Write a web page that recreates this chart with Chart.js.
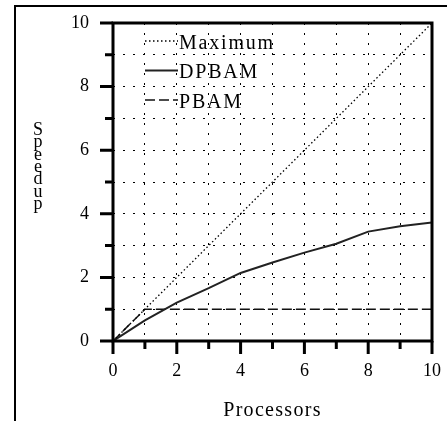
<!DOCTYPE html>
<html><head><meta charset="utf-8">
<script src="https://cdn.jsdelivr.net/npm/chart.js@4/dist/chart.umd.min.js"></script>
<style>html,body{margin:0;padding:0;background:#fff}#wrap{width:447px;height:421px}</style>
</head><body><div id="wrap"><canvas id="c" width="447" height="421"></canvas></div>
<script>
const processors = [0, 1, 2, 3, 4, 5, 6, 7, 8, 9, 10];
const maximum = [0, 1, 2, 3, 4, 5, 6, 7, 8, 9, 10];
const dpbam = [0, 0.65, 1.21, 1.66, 2.14, 2.47, 2.78, 3.06, 3.44, 3.61, 3.73];
const pbam = [0, 1, 1, 1, 1, 1, 1, 1, 1, 1, 1];
const seriesLabels = ['Maximum', 'DPBAM', 'PBAM'];
const xTickLabels = [0, 2, 4, 6, 8, 10];
const yTickLabels = [0, 2, 4, 6, 8, 10];
const xTitle = 'Processors';
const yTitle = 'Speedup';

const FONT = '"Liberation Serif", "Times New Roman", serif';
const toPts = (vals) => processors.map((p, i) => ({x: p, y: vals[i]}));

const decor = {
  id: 'decor',
  afterDraw(chart) {
    const {ctx, chartArea: a, scales: {x, y}} = chart;
    ctx.save();
    ctx.strokeStyle = '#000';
    ctx.fillStyle = '#000';
    // outer frame
    ctx.lineWidth = 2;
    ctx.beginPath(); ctx.moveTo(15, 421); ctx.lineTo(15, 6); ctx.lineTo(447, 6); ctx.stroke();
    // plot box
    ctx.lineWidth = 3;
    ctx.strokeRect(a.left, a.top, a.right - a.left, a.bottom - a.top);
    // tick marks
    ctx.beginPath();
    for (let v = 0; v <= 10; v++) {
      const len = v % 2 === 0 ? 13 : 8;
      const px = x.getPixelForValue(v);
      ctx.moveTo(px, a.bottom); ctx.lineTo(px, a.bottom + len);
      const py = y.getPixelForValue(v);
      ctx.moveTo(a.left - len, py); ctx.lineTo(a.left, py);
    }
    ctx.stroke();
    // y title, stacked letters
    ctx.font = '18px ' + FONT;
    ctx.textAlign = 'center';
    ctx.textBaseline = 'alphabetic';
    [...yTitle].forEach((ch, i) => ctx.fillText(ch, 38, 135 + i * 12.3));
    // x title
    ctx.font = '20px ' + FONT;
    try { ctx.letterSpacing = '1.3px'; } catch (e) {}
    ctx.fillText(xTitle, (a.left + a.right) / 2, 416);
    // legend
    ctx.textAlign = 'left';
    try { ctx.letterSpacing = '1.8px'; } catch (e) {}
    chart.data.datasets.forEach((ds, i) => {
      const ly = 41 + i * 29.5;
      ctx.save();
      ctx.strokeStyle = ds.borderColor;
      ctx.lineWidth = ds.borderWidth;
      ctx.setLineDash(ds.borderDash || []);
      ctx.beginPath(); ctx.moveTo(145, ly); ctx.lineTo(178, ly); ctx.stroke();
      ctx.restore();
      ctx.fillText(ds.label, 179, ly + 7.5);
    });
    ctx.restore();
  }
};

const noPad = (s) => { s.paddingTop = 0; s.paddingBottom = 0; s.paddingLeft = 0; s.paddingRight = 0; };
const gridColor = (c) => (c.tick && (c.tick.value === 0 || c.tick.value === 10)) ? 'rgba(0,0,0,0)' : '#000';

new Chart(document.getElementById('c'), {
  type: 'line',
  data: {
    datasets: [
      {label: seriesLabels[0], data: toPts(maximum), borderColor: '#000', borderWidth: 1.3, borderDash: [1.5, 2.5], pointRadius: 0, tension: 0},
      {label: seriesLabels[1], data: toPts(dpbam), borderColor: '#222', borderWidth: 2, borderDash: [], pointRadius: 0, tension: 0},
      {label: seriesLabels[2], data: toPts(pbam), borderColor: '#111', borderWidth: 1.5, borderDash: [10, 4], pointRadius: 0, tension: 0}
    ]
  },
  options: {
    responsive: false,
    animation: false,
    devicePixelRatio: 1,
    layout: {padding: {left: 0, right: 15, top: 23, bottom: 0}},
    plugins: {legend: {display: false}, tooltip: {enabled: false}},
    scales: {
      x: {
        type: 'linear', min: 0, max: 10,
        afterFit(s) { s.height = 80; noPad(s); },
        ticks: {stepSize: 1, autoSkip: false, maxRotation: 0, padding: 19, color: '#000',
          font: {family: FONT, size: 18},
          callback: (v) => xTickLabels.includes(v) ? String(v) : ''},
        grid: {drawTicks: false, color: gridColor, lineWidth: 1, borderDash: [2, 8]},
        border: {display: false, dash: [2, 8]}
      },
      y: {
        type: 'linear', min: 0, max: 10,
        afterFit(s) { s.width = 113; noPad(s); },
        ticks: {stepSize: 1, autoSkip: false, padding: 24, color: '#000',
          font: {family: FONT, size: 18},
          callback: (v) => yTickLabels.includes(v) ? String(v) : ''},
        grid: {drawTicks: false, color: gridColor, lineWidth: 1, borderDash: [2, 8]},
        border: {display: false, dash: [2, 8]}
      }
    }
  },
  plugins: [decor]
});
</script></body></html>
